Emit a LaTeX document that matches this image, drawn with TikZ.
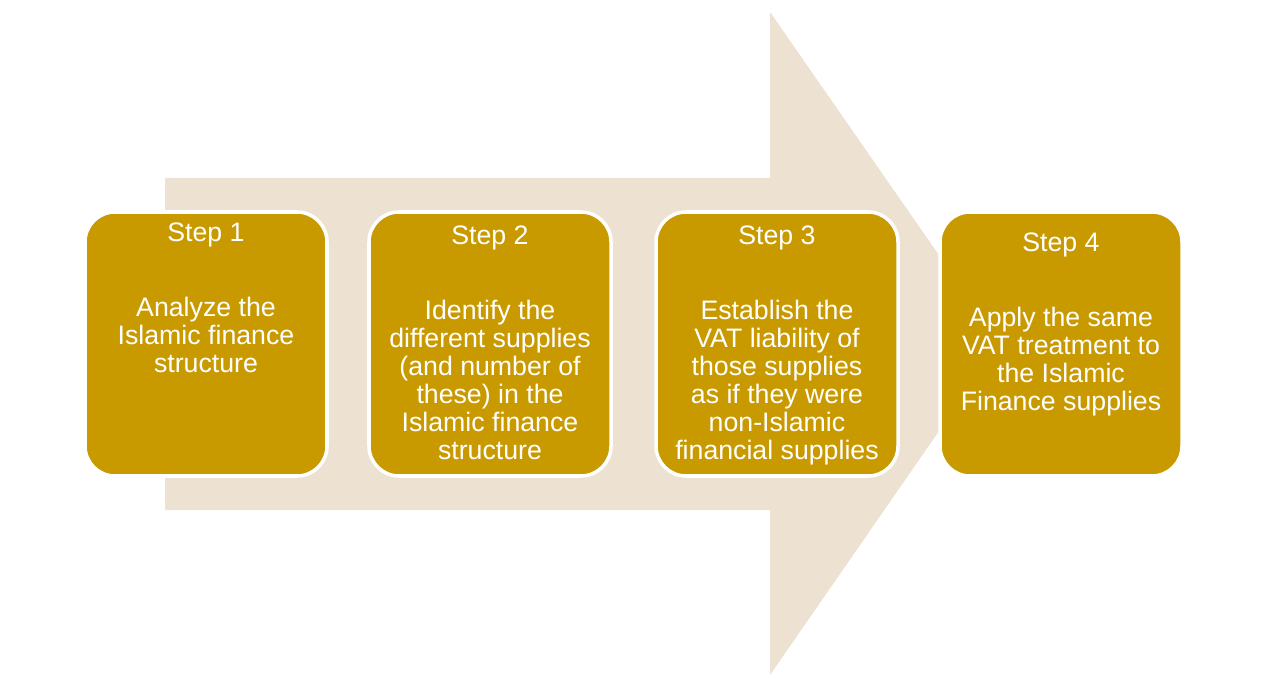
\documentclass[tikz,border=0pt]{standalone}
\usepackage{fontspec}
\setmainfont{Liberation Sans}
\usetikzlibrary{positioning}
\definecolor{beige}{HTML}{EDE1D1}
\definecolor{gold}{HTML}{C99A00}

\begin{document}
\begin{tikzpicture}
\useasboundingbox (0,0) rectangle (25.44,13.74);
% big background arrow
\fill[beige] (3.3,10.18) -- (15.4,10.18) -- (15.4,13.5) -- (20.0,6.88)
    -- (15.4,0.24) -- (15.4,3.54) -- (3.3,3.54) -- cycle;

\begin{scope}[every node/.style={draw=white,line width=2pt,fill=gold,rounded corners=0.6cm,
              minimum width=4.84cm,minimum height=5.28cm}]
    \node (S1) at (4.12,6.86) {};
    \node (S2) at (9.8,6.86) {};
    \node (S3) at (15.54,6.86) {};
    \node (S4) at (21.22,6.86) {};
\end{scope}

\begin{scope}[every node/.style={text=white,align=center,anchor=north,
              font=\fontsize{15.2}{15.9}\selectfont,inner sep=0pt}]
    \node (T1) at ([yshift=-0.24cm]S1.north) {Step 1\\[27pt]Analyze the\\Islamic finance\\structure};
    \node (T2) at ([yshift=-0.3cm]S2.north) {Step 2\\[27pt]Identify the\\different supplies\\(and number of\\these) in the\\Islamic finance\\structure};
    \node (T3) at ([yshift=-0.3cm]S3.north) {Step 3\\[27pt]Establish the\\VAT liability of\\those supplies\\as if they were\\non-Islamic\\financial supplies};
    \node (T4) at ([yshift=-0.44cm]S4.north) {Step 4\\[27pt]Apply the same\\VAT treatment to\\the Islamic\\Finance supplies};
\end{scope}
\end{tikzpicture}
\end{document}
